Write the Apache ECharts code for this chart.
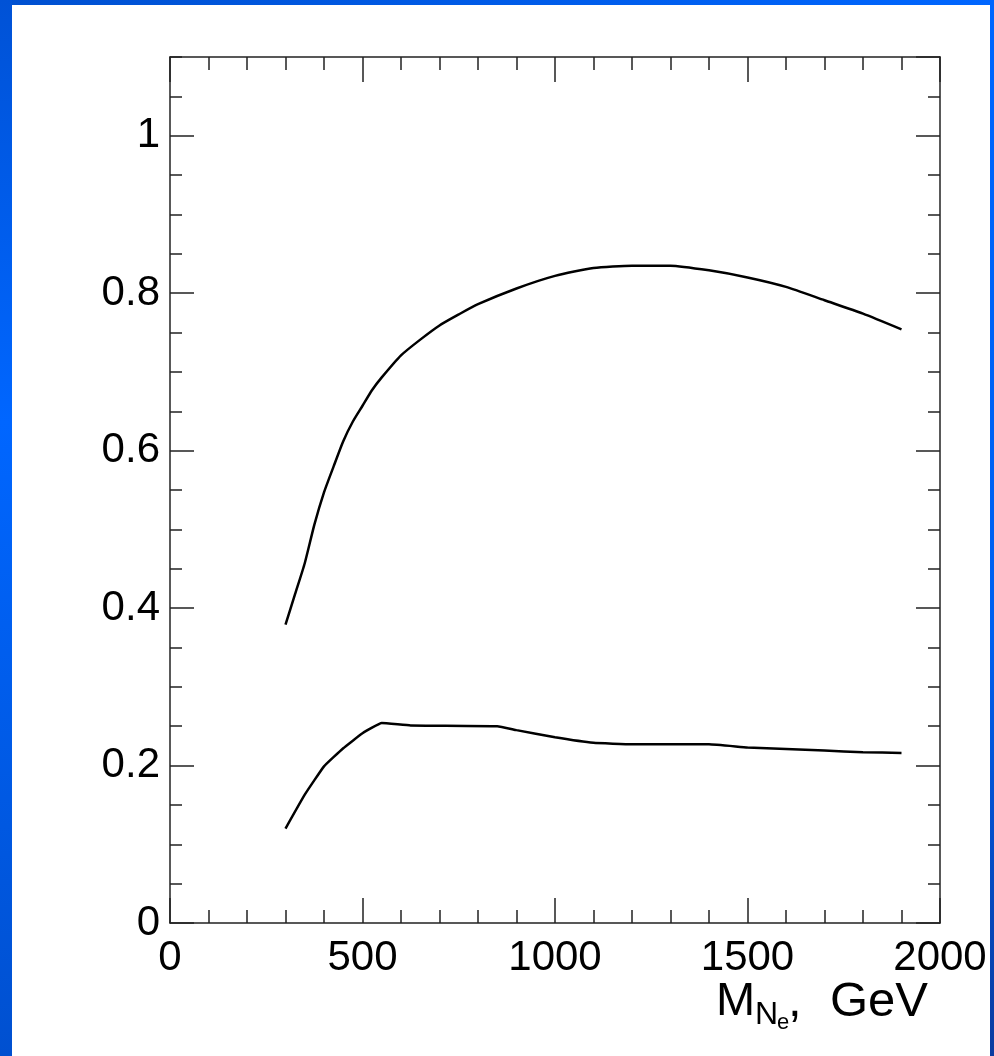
<!DOCTYPE html>
<html>
<head>
<meta charset="utf-8">
<script src="https://cdn.jsdelivr.net/npm/echarts@6/dist/echarts.min.js"></script>
<style>
html,body{margin:0;padding:0;background:#fff;}
#chart{width:994px;height:1056px;}
</style>
</head>
<body>
<div id="chart"></div>
<script>
// ---- data ----
const upperMasses = [300,325,350,375,400,425,450,475,500,525,550,600,650,700,750,800,900,1000,1100,1200,1300,1400,1500,1600,1700,1800,1900];
const upperValues = [0.379,0.418,0.457,0.506,0.547,0.580,0.612,0.637,0.657,0.677,0.693,0.721,0.741,0.759,0.773,0.786,0.806,0.822,0.832,0.835,0.835,0.829,0.820,0.808,0.791,0.774,0.754];
const lowerMasses = [300,350,400,450,500,550,625,850,900,1000,1100,1200,1300,1400,1500,1600,1700,1800,1900];
const lowerValues = [0.120,0.163,0.199,0.222,0.241,0.254,0.251,0.250,0.245,0.236,0.229,0.227,0.227,0.227,0.223,0.221,0.219,0.217,0.216];
const xRange = [0, 2000];
const yRange = [0, 1.1];
const xMajor = 500, xMinor = 100;
const yMajor = 0.2, yMinor = 0.05;

const FONT = 'Liberation Sans';
const chart = echarts.init(document.getElementById('chart'), null, {renderer: 'canvas'});

function mkX(pos, major, labels) {
  return {
    type: 'value', position: pos, min: xRange[0], max: xRange[1],
    interval: major ? xMajor : xMinor,
    axisLine: {show: major, onZero: false, lineStyle: {color: '#222', width: 1.5}},
    axisTick: {show: true, inside: true, length: major ? 25 : 13, lineStyle: {color: '#222', width: 1.5}},
    axisLabel: {show: labels, fontFamily: FONT, fontSize: 42, color: '#000', margin: 14,
                formatter: v => String(v)},
    splitLine: {show: false}
  };
}
function mkY(pos, major, labels) {
  return {
    type: 'value', position: pos, min: yRange[0], max: yRange[1],
    interval: major ? yMajor : yMinor,
    axisLine: {show: major, onZero: false, lineStyle: {color: '#222', width: 1.5}},
    axisTick: {show: true, inside: true, length: major ? 24 : 12, lineStyle: {color: '#222', width: 1.5}},
    axisLabel: {show: labels, fontFamily: FONT, fontSize: 42, color: '#000', margin: 10, showMaxLabel: false,
                padding: [8, 0, 0, 0], formatter: v => String(+v.toFixed(2))},
    splitLine: {show: false}
  };
}

const option = {
  backgroundColor: '#fff',
  animation: false,
  grid: {left: 170, right: 54, top: 57, bottom: 133, containLabel: false},
  xAxis: [mkX('bottom', true, true), mkX('bottom', false, false), mkX('top', true, false), mkX('top', false, false)],
  yAxis: [mkY('left', true, true), mkY('left', false, false), mkY('right', true, false), mkY('right', false, false)],
  series: [
    {type: 'line', xAxisIndex: 0, yAxisIndex: 0, showSymbol: false, smooth: 0.2,
     lineStyle: {color: '#000', width: 2.5}, data: upperMasses.map((m, i) => [m, upperValues[i]])},
    {type: 'line', xAxisIndex: 0, yAxisIndex: 0, showSymbol: false, smooth: 0.1,
     lineStyle: {color: '#000', width: 2.5}, data: lowerMasses.map((m, i) => [m, lowerValues[i]])}
  ],
  graphic: [
    {type: 'rect', shape: {x: 0, y: 0, width: 994, height: 5}, z: 100,
     style: {fill: new echarts.graphic.LinearGradient(0, 0, 1, 0, [{offset: 0, color: '#0050d0'}, {offset: 1, color: '#0066ff'}])}},
    {type: 'rect', shape: {x: 0, y: 0, width: 12, height: 1056}, z: 100,
     style: {fill: new echarts.graphic.LinearGradient(0, 0, 0, 1, [{offset: 0, color: '#0052d6'}, {offset: 0.4, color: '#0066ff'}, {offset: 1, color: '#0050d0'}])}},
    {type: 'rect', shape: {x: 990, y: 0, width: 4, height: 1056}, z: 100,
     style: {fill: new echarts.graphic.LinearGradient(0, 0, 0, 1, [{offset: 0, color: '#0066ff'}, {offset: 0.6, color: '#0060f0'}, {offset: 1, color: '#0a3ca0'}])}},
    {type: 'text', left: 716, top: 979, z: 100, style: {text: 'M', font: '47px "Liberation Sans"', fill: '#000'}},
    {type: 'text', left: 755, top: 999, z: 100, style: {text: 'N', font: '32px "Liberation Sans"', fill: '#000'}},
    {type: 'text', left: 777, top: 1012, z: 100, style: {text: 'e', font: '22px "Liberation Sans"', fill: '#000'}},
    {type: 'text', left: 788, top: 978, z: 100, style: {text: ',', font: '49px "Liberation Sans"', fill: '#000'}},
    {type: 'text', right: 66, top: 978, z: 100, style: {text: 'GeV', font: '49px "Liberation Sans"', fill: '#000'}}
  ]
};
chart.setOption(option);
</script>
</body>
</html>
